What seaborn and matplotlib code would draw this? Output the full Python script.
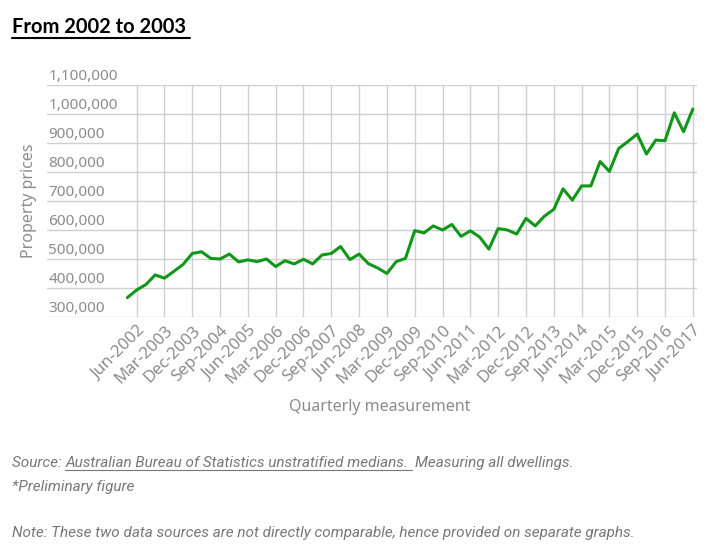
import matplotlib
matplotlib.use("Agg")
import matplotlib.pyplot as plt
import matplotlib.transforms as mtransforms
import numpy as np
import pandas as pd
import seaborn as sns

# quarterly medians, Mar-2002 .. Jun-2017
quarters = pd.period_range("2002Q1", "2017Q2", freq="Q")
prices = [367000, 393000, 412000, 445000, 434000, 457000, 481000, 519000, 525000, 502000,
          500000, 517000, 490000, 497000, 491000, 500000, 474000, 494000, 483000, 499000,
          483000, 514000, 519000, 543000, 498000, 517000, 484000, 469000, 450000, 491000,
          502000, 598000, 590000, 614000, 600000, 619000, 578000, 597000, 576000, 534000,
          605000, 600000, 586000, 640000, 614000, 648000, 671000, 742000, 703000, 752000,
          752000, 836000, 802000, 881000, 905000, 931000, 862000, 910000, 908000, 1004000,
          939000, 1017000]

tick_labels = ["Jun-2002", "Mar-2003", "Dec-2003", "Sep-2004", "Jun-2005", "Mar-2006",
               "Dec-2006", "Sep-2007", "Jun-2008", "Mar-2009", "Dec-2009", "Sep-2010",
               "Jun-2011", "Mar-2012", "Dec-2012", "Sep-2013", "Jun-2014", "Mar-2015",
               "Dec-2015", "Sep-2016", "Jun-2017"]
y_ticks = [300000, 400000, 500000, 600000, 700000, 800000, 900000, 1000000, 1100000]

months = ["Mar", "Jun", "Sep", "Dec"]
quarter_labels = [f"{months[q.quarter - 1]}-{q.year}" for q in quarters]
df = pd.DataFrame({"idx": np.arange(len(prices)), "quarter": quarter_labels, "price": prices})

sns.set_style("white")
plt.rcParams['font.family'] = ['Noto Sans', 'DejaVu Sans']

GRAY = "#8c8c8c"
W, H = 725, 549
fig = plt.figure(figsize=(W / 100, H / 100), dpi=100)
ax = fig.add_axes([47 / W, 1 - 317 / H, 650 / W, 232 / H])

sns.lineplot(data=df, x="idx", y="price", ax=ax, color="#109618", lw=2.2,
             solid_joinstyle="round", solid_capstyle="round")

ax.set_xlim(-8.67, 61.45)
ax.set_ylim(300000, 1100000)

tick_pos = [quarter_labels.index(t) for t in tick_labels]
ax.set_xticks(tick_pos)
ax.set_xticklabels(tick_labels, rotation=45, ha="right", va="top",
                   rotation_mode="anchor", color=GRAY, fontsize=12)
ax.set_yticks(y_ticks)
ax.set_yticklabels([f"{v:,}" for v in y_ticks], color=GRAY, fontsize=11)
ax.tick_params(axis="both", length=0)
ax.tick_params(axis="x", pad=4)
ax.tick_params(axis="y", pad=-1)

# y labels sit inside the plot, left aligned, just above their grid line
for tick in ax.yaxis.get_major_ticks():
    lab = tick.label1
    lab.set_ha("left")
    lab.set_va("baseline")
    lab.set_transform(lab.get_transform() +
                      mtransforms.ScaledTranslation(0, 5 / 100, fig.dpi_scale_trans))

ax.grid(True, color="#cfcfcf", lw=1)
for s in ax.spines.values():
    s.set_visible(False)

ax.set_xlabel("Quarterly measurement", color=GRAY, fontsize=11.5)
ax.set_ylabel("Property prices", color=GRAY, fontsize=11.5)
ax.xaxis.set_label_coords(0.512, -0.355)
ax.yaxis.set_label_coords(-0.016, 0.5)

# title with underline
renderer = fig.canvas.get_renderer()
title = fig.text(12 / W, 1 - 33 / H, "From 2002 to 2003", fontsize=14.5, fontweight="bold",
                 family=["Lato", "DejaVu Sans"], color="black", va="baseline")
bb = title.get_window_extent(renderer)
fig.add_artist(plt.Line2D([bb.x0 / W, (bb.x1 + 4) / W], [1 - 37.5 / H, 1 - 37.5 / H],
                          color="black", lw=1.5, transform=fig.transFigure))

# footer notes
foot = dict(fontsize=11, style="italic", color="#777777", va="baseline",
            family=["Liberation Sans Narrow", "Roboto", "DejaVu Sans"])
t1 = fig.text(12 / W, 1 - 467 / H, "Source: ", **foot)
x = t1.get_window_extent(renderer).x1
t2 = fig.text(x / W, 1 - 467 / H, "Australian Bureau of Statistics unstratified medians. ", **foot)
b2 = t2.get_window_extent(renderer)
fig.add_artist(plt.Line2D([b2.x0 / W, b2.x1 / W], [1 - 470 / H, 1 - 470 / H],
                          color="#777777", lw=0.8, transform=fig.transFigure))
fig.text(b2.x1 / W + 3 / W, 1 - 467 / H, "Measuring all dwellings.", **foot)
fig.text(12 / W, 1 - 491 / H, "*Preliminary figure", **foot)
fig.text(12 / W, 1 - 537 / H,
         "Note: These two data sources are not directly comparable, hence provided on separate graphs.",
         **foot)

fig.savefig("out.png", dpi=100)
